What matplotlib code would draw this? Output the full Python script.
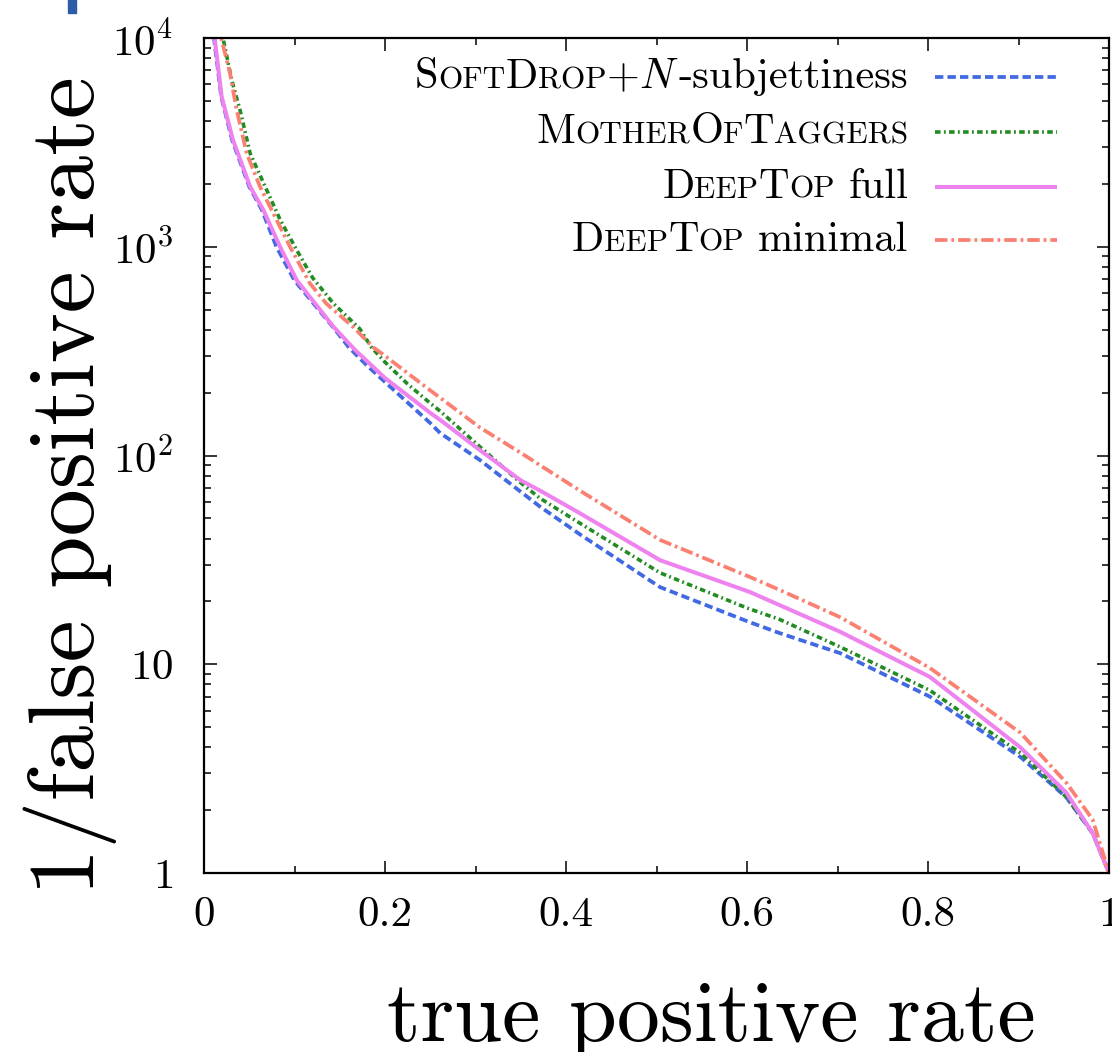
import matplotlib
matplotlib.use("Agg")
import matplotlib.pyplot as plt
from matplotlib.lines import Line2D
from matplotlib.patches import Rectangle
from matplotlib.ticker import FixedLocator, FixedFormatter, MultipleLocator
from matplotlib.offsetbox import TextArea, HPacker, DrawingArea, AnchoredOffsetbox

plt.rcParams["font.family"] = "serif"
plt.rcParams["font.serif"] = ["cmr10", "DejaVu Serif"]
plt.rcParams["mathtext.fontset"] = "cm"
plt.rcParams["axes.unicode_minus"] = False
plt.rcParams["lines.scale_dashes"] = False

# ROC curves: signal efficiency vs background rejection
softdrop_tpr = [0.006, 0.011, 0.019, 0.031, 0.05, 0.064, 0.08, 0.10, 0.145, 0.16, 0.18,
                0.2, 0.25, 0.261, 0.305, 0.35, 0.371, 0.415, 0.504, 0.603, 0.636,
                0.703, 0.802, 0.902, 0.953, 0.982, 1.0]
softdrop_rej = [20000, 10000, 5240, 3250, 1940, 1500, 1000, 690, 400, 330, 270,
                225, 143, 128, 95, 67, 57, 42, 23.4, 15.9, 14.1,
                11.3, 7.0, 3.6, 2.3, 1.55, 1.0]

mot_tpr = [0.012, 0.0214, 0.0306, 0.0398, 0.051, 0.0693, 0.084, 0.1024, 0.12, 0.143,
           0.172, 0.185, 0.2, 0.225, 0.25, 0.261, 0.305, 0.35, 0.371, 0.415, 0.504,
           0.6, 0.636, 0.703, 0.802, 0.902, 0.953, 0.982, 1.0]
mot_rej = [20000, 9800, 6290, 4520, 2800, 1870, 1350, 965, 710, 535,
           405, 330, 280, 220, 178, 163, 110, 74, 62.5, 47.5, 27.4,
           18.6, 16.4, 12.1, 7.5, 3.76, 2.31, 1.55, 1.0]

full_tpr = [0.006, 0.012, 0.0195, 0.032, 0.051, 0.0656, 0.084, 0.1024, 0.143, 0.167,
            0.2, 0.25, 0.261, 0.305, 0.35, 0.371, 0.415, 0.504, 0.603, 0.636, 0.703,
            0.802, 0.902, 0.953, 0.982, 1.0]
full_rej = [20000, 9800, 5240, 3250, 1940, 1500, 1000, 692, 414, 320,
            235, 160, 148, 106, 76, 68, 53, 31.5, 22.2, 19.2, 14.3,
            8.7, 4.0, 2.42, 1.55, 1.0]

minimal_tpr = [0.010, 0.0195, 0.0287, 0.0361, 0.0472, 0.0619, 0.080, 0.095, 0.117,
               0.135, 0.1645, 0.187, 0.2, 0.25, 0.305, 0.35, 0.371, 0.415, 0.504,
               0.603, 0.636, 0.703, 0.802, 0.902, 0.953, 0.982, 1.0]
minimal_rej = [20000, 9800, 6800, 4520, 2800, 1940, 1350, 1000, 668,
               535, 414, 330, 300, 205, 136, 103, 90, 68, 39.4,
               26.2, 22.7, 16.8, 9.6, 4.7, 2.7, 1.8, 1.0]

y_ticks = [1, 10, 100, 1000, 10000]
y_tick_labels = ["$1$", "$10$", "$10^2$", "$10^3$", "$10^4$"]
x_ticks = [0, 0.2, 0.4, 0.6, 0.8, 1.0]
x_tick_labels = ["0", "0.2", "0.4", "0.6", "0.8", "1"]

# (text piece, 'b' = normal size, 's' = small caps size, ' ' = word space)
legend_labels = [
    [("S", "b"), ("OFT", "s"), ("D", "b"), ("ROP", "s"), ("+", "b"), ("$N$", "b"),
     ("-subjettiness", "b")],
    [("M", "b"), ("OTHER", "s"), ("O", "b"), ("F", "s"), ("T", "b"), ("AGGERS", "s")],
    [("D", "b"), ("EEP", "s"), ("T", "b"), ("OP", "s"), ("", " "), ("full", "b")],
    [("D", "b"), ("EEP", "s"), ("T", "b"), ("OP", "s"), ("", " "), ("minimal", "b")],
]

styles = [
    dict(color="#4169e1", lw=2.7, dashes=(6, 3)),
    dict(color="#228b22", lw=2.6, dashes=(4, 2.4, 1.3, 2.4)),
    dict(color="#ee82ee", lw=2.9, linestyle="-"),
    dict(color="#fa8072", lw=2.7, dashes=(9, 2.8, 2, 2.8)),
]

fig = plt.figure(figsize=(11.12, 10.52), dpi=100)
ax = fig.add_axes([204 / 1112, 1 - 873 / 1052, 905 / 1112, 835 / 1052])

series = [(softdrop_tpr, softdrop_rej), (mot_tpr, mot_rej),
          (full_tpr, full_rej), (minimal_tpr, minimal_rej)]
for (tpr, rej), st in zip(series, styles):
    ax.plot(tpr, rej, solid_capstyle="butt", dash_capstyle="butt",
            solid_joinstyle="round", **st)

ax.set_yscale("log")
ax.set_xlim(0, 1)
ax.set_ylim(1, 1e4)

ax.xaxis.set_major_locator(FixedLocator(x_ticks))
ax.xaxis.set_major_formatter(FixedFormatter(x_tick_labels))
ax.xaxis.set_minor_locator(MultipleLocator(0.1))
ax.yaxis.set_major_locator(FixedLocator(y_ticks))
ax.yaxis.set_major_formatter(FixedFormatter(y_tick_labels))

ax.tick_params(which="both", direction="in", top=True, right=True, width=1.1)
ax.tick_params(which="major", length=9, labelsize=31)
ax.tick_params(which="minor", length=5)
ax.tick_params(axis="y", which="major", pad=22)
ax.tick_params(axis="x", which="major", pad=17)
for sp in ax.spines.values():
    sp.set_linewidth(1.6)

fig.text(70 / 1112, 1 - 486 / 1052, "1/false positive rate", rotation=90,
         ha="center", va="center", fontsize=68)
fig.text(711 / 1112, 1 - 1041 / 1052, "true positive rate",
         ha="center", va="baseline", fontsize=62)

# small-caps legend, right aligned text with the line sample after it
big, small = 30.5, 22.5
row_y = [0.953, 0.887, 0.8216, 0.758]
for pieces, st, yc in zip(legend_labels, styles, row_y):
    parts = []
    for t, k in pieces:
        if k == " ":
            parts.append(DrawingArea(10, 0, 0, 0))
        else:
            parts.append(TextArea(t, textprops=dict(fontsize=big if k == "b" else small)))
    label_box = HPacker(children=parts, align="baseline", pad=0, sep=0)
    da = DrawingArea(88, 12, 0, 0)
    da.add_artist(Line2D([0, 88], [6, 6], solid_capstyle="butt",
                         dash_capstyle="butt", **st))
    row = HPacker(children=[label_box, da], align="center", pad=0, sep=19)
    ab = AnchoredOffsetbox(loc="center right", child=row, frameon=False,
                           pad=0, borderpad=0, bbox_to_anchor=(0.9425, yc),
                           bbox_transform=ax.transAxes)
    ax.add_artist(ab)

# cut-off panel marker in the corner
fig.patches.append(Rectangle((68 / 1112, 1 - 13 / 1052), 8 / 1112, 13 / 1052,
                             transform=fig.transFigure, color="#2b5ca8"))

fig.savefig("out.png", dpi=100)
